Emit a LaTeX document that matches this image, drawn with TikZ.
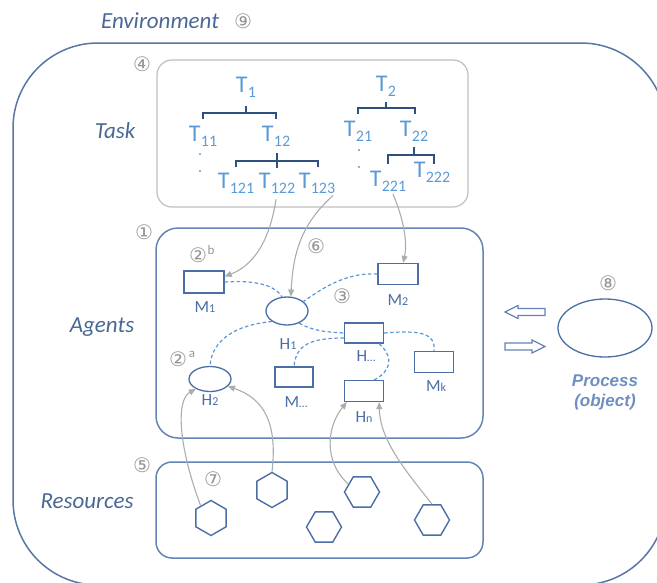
\documentclass[tikz,border=0pt]{standalone}
\usepackage{fontspec}
\setmainfont{Carlito}
\newfontfamily\djv{DejaVu Sans}
\newfontfamily\libsans{Liberation Sans}
\usetikzlibrary{shapes.geometric,arrows.meta,calc}
\definecolor{envc}{RGB}{88,118,165}
\definecolor{labc}{RGB}{74,104,150}
\definecolor{tblue}{RGB}{91,155,213}
\definecolor{nodeblue}{RGB}{74,110,165}
\definecolor{boxblue}{RGB}{100,132,182}
\definecolor{dashblue}{RGB}{91,150,210}
\definecolor{circgray}{RGB}{150,150,150}
\definecolor{arrgray}{RGB}{172,172,172}
\definecolor{brc}{RGB}{47,79,127}
\definecolor{taskgray}{RGB}{190,190,190}
\definecolor{procblue}{RGB}{111,143,193}
\newcommand\Tl[1]{T\kern0.3pt\raisebox{-5pt}{\fontsize{16}{16}\selectfont #1}}
\newcommand\sml[1]{{\fontsize{12}{12}\selectfont #1}}
\begin{document}
\begin{tikzpicture}[x=1pt,y=-1pt,
  lab/.style={font=\fontsize{23}{23}\selectfont\itshape, text=labc, inner sep=0},
  circ/.style={font=\djv\fontsize{20}{20}\selectfont, text=circgray, inner sep=0},
  supl/.style={font=\fontsize{13}{13}\selectfont, text=circgray, inner sep=0},
  tlab/.style={font=\fontsize{24}{24}\selectfont, text=tblue, inner sep=0},
  nlab/.style={font=\fontsize{17}{17}\selectfont, text=nodeblue, inner sep=0},
  rbox/.style={draw=nodeblue, line width=1.3pt, minimum width=39pt, minimum height=21pt, inner sep=0, fill=white},
  ell/.style={ellipse, draw=nodeblue, line width=1.3pt, inner sep=0, fill=white},
  hexf/.style={regular polygon, regular polygon sides=6, draw=nodeblue, line width=1.4pt, inner sep=0, minimum size=35pt},
  hexp/.style={hexf, shape border rotate=30},
  br/.style={draw=brc, line width=1.4pt},
  dsh/.style={draw=dashblue, line width=1.2pt, dash pattern=on 3.5pt off 2.5pt},
  garr/.style={draw=arrgray, line width=1.1pt, -{Triangle[length=7pt,width=6pt]}},
  blk/.style={draw=boxblue, line width=1.2pt, fill=white, line join=miter}
]
\useasboundingbox (0,0) rectangle (657,582);
\begin{scope}
\clip (0,0) rectangle (657,582);
\draw[draw=envc, line width=1.5pt, rounded corners=85pt] (13,43) rectangle (666,585);
\end{scope}

% containers
\draw[draw=taskgray, line width=1.2pt, rounded corners=15pt] (157,60) rectangle (468,207);
\draw[draw=boxblue, line width=1.5pt, rounded corners=22pt] (156,228) rectangle (483,438);
\draw[draw=boxblue, line width=1.5pt, rounded corners=16pt] (156,462) rectangle (483,558);

% side labels
\node[lab] (lenv) at (160,21) {Environment};
\node[circ] (c9) at (243,21) {⑨};
\node[lab] (ltask) at (115,131) {Task};
\node[circ] (c4) at (142,64) {④};
\node[lab] (lagents) at (102,327) {Agents};
\node[circ] (c1) at (144,232) {①};
\node[lab] (lres) at (87,501) {Resources};
\node[circ] (c5) at (142,465) {⑤};

% task trees
\node[tlab] (T1) at (246,87) {\Tl{1}};
\node[tlab] (T11) at (203,136) {\Tl{11}};
\node[tlab] (T12) at (276,136) {\Tl{12}};
\node[tlab] (T121) at (236,183) {\Tl{121}};
\node[tlab] (T122) at (277,183) {\Tl{122}};
\node[tlab] (T123) at (317,183) {\Tl{123}};
\node[tlab] (T2) at (386,86) {\Tl{2}};
\node[tlab] (T21) at (358,131) {\Tl{21}};
\node[tlab] (T22) at (414,131) {\Tl{22}};
\node[tlab] (T221) at (388,181) {\Tl{221}};
\node[tlab] (T222) at (432,172) {\Tl{222}};

\draw[br] (203,119) -- (203,113) -- (276,113) -- (276,119);
\draw[br] (246,106) -- (246,113);
\draw[br] (236,167) -- (236,161) -- (318,161) -- (318,167);
\draw[br] (277,153) -- (277,168);
\draw[br] (358,114) -- (358,108) -- (415,108) -- (415,114);
\draw[br] (386,102) -- (386,108);
\draw[br] (388,164) -- (388,155) -- (434,155) -- (434,164);
\draw[br] (414,147) -- (414,155);

\foreach \p in {(200,154),(200,171),(359,150),(359,167)}
  \fill[tblue] \p circle[radius=1.2pt];

% agents
\node[rbox, minimum width=40pt, minimum height=22pt] (M1) at (204,282) {};
\node[rbox, minimum width=40pt] (M2) at (398,274) {};
\node[rbox, minimum height=20pt] (Hd) at (364,333) {};
\node[rbox] (Mk) at (434,362) {};
\node[rbox, minimum width=38pt, minimum height=20pt] (Md) at (294,377) {};
\node[rbox] (Hn) at (364,391) {};
\node[ell, minimum width=42pt, minimum height=28pt] (H1) at (287,311) {};
\node[ell, minimum width=42pt, minimum height=25pt] (H2) at (210,379) {};

\node[nlab] (lM1) at (205,307) {M\sml{1}};
\node[nlab] (lM2) at (398,300) {M\sml{2}};
\node[nlab] (lH1) at (288,344) {H\sml{1}};
\node[nlab] (lHd) at (366,356) {H\sml{…}};
\node[nlab] (lMk) at (436,386) {M\sml{k}};
\node[nlab] (lH2) at (210,400) {H\sml{2}};
\node[nlab] (lMd) at (296,402) {M\sml{…}};
\node[nlab] (lHn) at (364,417) {H\sml{n}};

\node[circ] (c2b) at (198,255) {②};
\node[supl] (sb) at (211,250) {b};
\node[circ] (c2a) at (178,359) {②};
\node[supl] (sa) at (192,354) {a};
\node[circ] (c3) at (342,296) {③};
\node[circ] (c6) at (316,246) {⑥};

% dashed relations
\draw[dsh] (M1.east) .. controls (255,280) and (275,285) .. (H1.110);
\draw[dsh] (M2.west) .. controls (345,272) and (320,290) .. (H1.30);
\draw[dsh] (H1.215) .. controls (235,325) and (212,340) .. (H2.north);
\draw[dsh] (H1.315) .. controls (315,332) and (330,332) .. (Hd.west);
\draw[dsh] ($(Hd.west)+(0,5)$) .. controls (310,338) and (296,345) .. (Md.north);
\draw[dsh] (Hd.east) .. controls (420,330) and (436,333) .. (Mk.north);
\draw[dsh] ($(Hd.south east)+(-5,0)$) .. controls (395,358) and (390,372) .. ($(Hn.north east)+(-10,0)$);

% resources
\node[hexp] (hx1) at (211,518) {};
\node[hexp] (hx2) at (272,490) {};
\node[hexf] (hx3) at (362,492) {};
\node[hexf] (hx4) at (324,527) {};
\node[hexf] (hx5) at (432,520) {};
\node[circ] (c7) at (213,479) {⑦};

% gray assignment arrows
\draw[garr, shorten <=6pt] (T122.south) .. controls (272,225) and (262,262) .. (M1.15);
\draw[garr, shorten <=3pt] (T123.south east) .. controls (300,225) and (293,255) .. (H1.75);
\draw[garr, shorten <=3pt] (T221.-70) .. controls (402,215) and (408,240) .. (M2.65);
\draw[garr] (hx1.130) .. controls (178,445) and (176,400) .. (H2.215);
\draw[garr] (hx2.north) .. controls (278,420) and (262,398) .. (H2.338);
\draw[garr] (hx3.150) .. controls (322,460) and (328,425) .. ($(Hn.south west)+(3,0)$);
\draw[garr] (hx5.north) .. controls (405,470) and (380,440) .. ($(Hn.south east)+(-5,0)$);

% process
\node[ell, minimum width=94pt, minimum height=58pt] (proc) at (605,328) {};
\node[circ] (c8) at (608,283) {⑧};
\node[font=\libsans\bfseries\itshape\fontsize{17}{20}\selectfont, text=procblue, align=center, inner sep=0] (lproc) at (605,392) {Process\\(object)};

\draw[blk] (505,312) -- (518,305.5) -- (518,308.5) -- (545,308.5) -- (545,315.5) -- (518,315.5) -- (518,318.5) -- cycle;
\draw[blk] (545,346.5) -- (532,340) -- (532,343) -- (505,343) -- (505,350) -- (532,350) -- (532,353) -- cycle;
\end{tikzpicture}
\end{document}
